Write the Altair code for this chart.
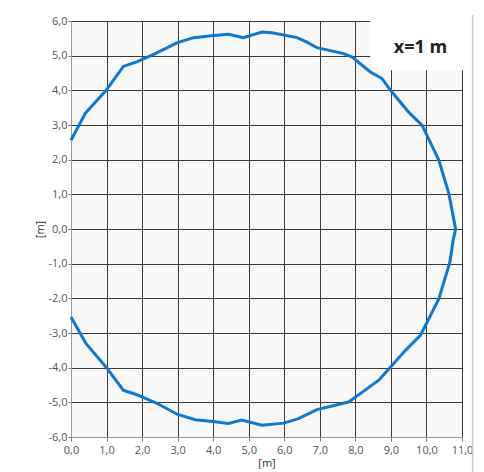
import altair as alt
import pandas as pd

# Upper half of the contour (left -> right)
top_x = [0.0, 0.41, 0.99, 1.47, 1.85, 2.37, 2.98, 3.45, 4.01, 4.43, 4.85, 5.37, 5.65,
         6.36, 6.64, 6.92, 7.67, 7.91, 8.42, 8.75, 8.99, 9.50, 9.88, 10.35, 10.63, 10.72, 10.82]
top_y = [2.56, 3.35, 4.00, 4.69, 4.82, 5.06, 5.37, 5.52, 5.58, 5.62, 5.52, 5.68, 5.66,
         5.52, 5.39, 5.23, 5.06, 4.96, 4.53, 4.34, 4.00, 3.37, 2.99, 1.98, 1.02, 0.54, 0.00]
# Lower half of the contour (left -> right)
bot_x = [0.0, 0.42, 1.00, 1.47, 1.85, 2.40, 3.00, 3.50, 4.00, 4.43, 4.80, 5.37, 5.98,
         6.40, 6.92, 7.81, 8.00, 8.66, 8.99, 9.41, 9.83, 10.35, 10.66, 10.75]
bot_y = [-2.54, -3.30, -4.00, -4.65, -4.78, -5.02, -5.35, -5.50, -5.55, -5.61, -5.51, -5.66, -5.60,
         -5.47, -5.21, -4.99, -4.85, -4.36, -3.98, -3.50, -3.07, -2.01, -0.95, -0.33]

x_ticks = list(range(0, 12))
y_ticks = list(range(-6, 7))

label_text = ["x=1 m"]
label_x = [9.83]
label_y = [5.21]
box_x = [8.42]
box_x2 = [11.32]
box_y = [4.58]
box_y2 = [6.02]
frame_x = [11.3]

px = top_x + bot_x[::-1]
py = top_y + bot_y[::-1]
df = pd.DataFrame({"x": px, "y": py, "i": list(range(len(px)))})

fmt = "replace(replace(format(datum.value, '.1f'), '.', ','), '\u2212', '-')"

xax = alt.Axis(values=x_ticks, labelExpr=fmt, title="[m]", grid=True, gridColor="#3a3a3a",
               gridOpacity=1, tickColor="#777", tickSize=4, domainColor="#999",
               labelOverlap=False, labelFlush=False,
               labelColor="#555", labelFont="Open Sans", labelFontSize=11, labelPadding=3,
               titleFont="Open Sans", titleFontSize=11, titleFontWeight="normal",
               titleColor="#333", titlePadding=2)
yax = alt.Axis(values=y_ticks, labelExpr=fmt, title="[m]", grid=True, gridColor="#3a3a3a",
               gridOpacity=1, tickColor="#777", tickSize=3, domainColor="#999",
               labelOverlap=False, labelFlush=False,
               labelColor="#555", labelFont="Open Sans", labelFontSize=11, labelPadding=1,
               titleFont="Open Sans", titleFontSize=11, titleFontWeight="normal",
               titleColor="#333", titlePadding=3)

xs = alt.Scale(domain=[0, 11], nice=False, zero=False)
ys = alt.Scale(domain=[-6, 6], nice=False, zero=False)

line = alt.Chart(df).mark_line(color="#0a7ad6", strokeWidth=3).encode(
    x=alt.X("x:Q", scale=xs, axis=xax),
    y=alt.Y("y:Q", scale=ys, axis=yax),
    order=alt.Order("i:Q"),
)

box = alt.Chart(pd.DataFrame({"x": box_x, "x2": box_x2, "y": box_y, "y2": box_y2})).mark_rect(
    color="white", clip=False).encode(
    x=alt.X("x:Q", scale=xs, axis=xax), x2="x2:Q",
    y=alt.Y("y:Q", scale=ys, axis=yax), y2="y2:Q")

frame = alt.Chart(pd.DataFrame({"x": frame_x})).mark_rule(
    color="#c8c8c8", strokeWidth=1.5, clip=False).encode(
    x=alt.X("x:Q", scale=xs, axis=xax), y=alt.value(-6), y2=alt.value(460))

txt = alt.Chart(pd.DataFrame({"x": label_x, "y": label_y, "t": label_text})).mark_text(
    font="Open Sans", fontSize=18, fontWeight="bold", color="#222").encode(
    x=alt.X("x:Q", scale=xs, axis=xax), y=alt.Y("y:Q", scale=ys, axis=yax), text="t:N")

chart = (line + box + frame + txt).properties(
    width=391, height=416,
    autosize=alt.AutoSizeParams(type="none"),
    padding={"left": 63, "top": 13, "right": 14, "bottom": 40},
    background="white",
).configure_view(fill="#f8f8f8", stroke="#999")

chart.save("out.html", embed_options={"renderer": "svg", "actions": False})
